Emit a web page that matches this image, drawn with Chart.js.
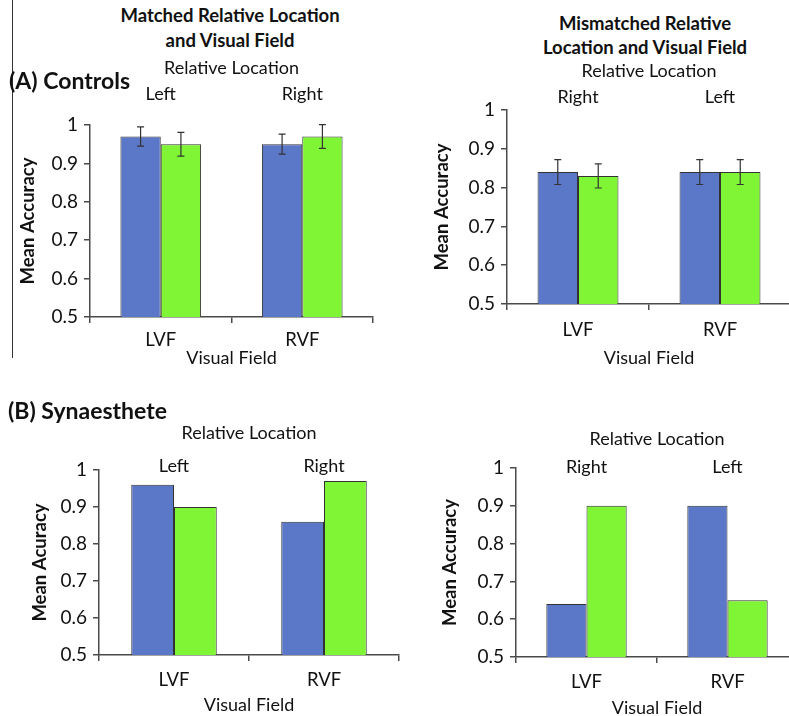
<!DOCTYPE html>
<html><head><meta charset="utf-8">
<script src="https://cdn.jsdelivr.net/npm/chart.js@4"></script>
<style>
html,body{margin:0;padding:0;background:#fff;overflow:hidden;}
#wrap{position:relative;width:789px;height:716px;overflow:hidden;font-family:Lato,sans-serif;color:#111;background:#fff;}
canvas{position:absolute;}
.t{position:absolute;white-space:nowrap;font-weight:bold;}
.c{transform:translateX(-50%);text-align:center;}
</style></head><body><div id="wrap">
<div style="position:absolute;left:12px;top:0;width:1px;height:358px;background:#333"></div>
<canvas id="cA"></canvas><canvas id="cB"></canvas><canvas id="cC"></canvas><canvas id="cD"></canvas>
<div class="t" style="left:9px;top:66px;font-size:23px;line-height:28px">(A) Controls</div>
<div class="t" style="left:8px;top:396px;font-size:23px;line-height:28px">(B) Synaesthete</div>
<div class="t c" style="left:230px;top:3px;font-size:18.5px;line-height:25px">Matched Relative Location<br>and Visual Field</div>
<div class="t c" style="left:645px;top:11px;font-size:18.5px;line-height:24px">Mismatched Relative<br>Location and Visual Field</div>
</div>
<script>
// ---- data ----
const categories = ['LVF', 'RVF'];
const seriesNames = ['Series 1', 'Series 2'];
const matchedLocations = ['Left', 'Right'];
const mismatchedLocations = ['Right', 'Left'];
const controlsMatchedBlue = [0.97, 0.95];
const controlsMatchedGreen = [0.95, 0.97];
const controlsMatchedBlueErr = [0.025, 0.026];
const controlsMatchedGreenErr = [0.031, 0.031];
const controlsMismatchedBlue = [0.84, 0.84];
const controlsMismatchedGreen = [0.83, 0.84];
const controlsMismatchedBlueErr = [0.032, 0.032];
const controlsMismatchedGreenErr = [0.031, 0.032];
const synMatchedBlue = [0.96, 0.86];
const synMatchedGreen = [0.90, 0.97];
const synMismatchedBlue = [0.64, 0.90];
const synMismatchedGreen = [0.90, 0.65];
const yMin = 0.5, yMax = 1, yStep = 0.1;

// ---- style ----
const BLUE = '#5b77c7', GREEN = '#80f535', EDGE = '#333333', AX = '#4a4a4a';
const FAM = 'Lato, sans-serif';

const errorBars = {
  id: 'errorBars',
  afterDatasetsDraw(chart) {
    const ctx = chart.ctx, ys = chart.scales.y;
    chart.data.datasets.forEach((ds, i) => {
      if (!ds.errors) return;
      const meta = chart.getDatasetMeta(i);
      meta.data.forEach((bar, j) => {
        const v = ds.data[j], e = ds.errors[j];
        const x = bar.x, y1 = ys.getPixelForValue(v + e), y2 = ys.getPixelForValue(v - e);
        ctx.save();
        ctx.strokeStyle = '#333'; ctx.lineWidth = 1.2;
        ctx.beginPath();
        ctx.moveTo(x, y1); ctx.lineTo(x, y2);
        ctx.moveTo(x - 3.5, y1); ctx.lineTo(x + 3.5, y1);
        ctx.moveTo(x - 3.5, y2); ctx.lineTo(x + 3.5, y2);
        ctx.stroke(); ctx.restore();
      });
    });
  }
};

function panel(id, g, blue, green, blueErr, greenErr, topLabels, yTitle) {
  const c = document.getElementById(id);
  c.width = g.w; c.height = g.h;
  c.style.left = g.x + 'px'; c.style.top = g.y + 'px';
  const ds = (label, data, err, col) => ({
    label, data, errors: err, backgroundColor: col, borderColor: EDGE, borderWidth: 1,
    categoryPercentage: 0.57, barPercentage: 1, xAxisID: 'x', yAxisID: 'y'
  });
  new Chart(c, {
    type: 'bar',
    data: { labels: categories, datasets: [ds(seriesNames[0], blue, blueErr, BLUE), ds(seriesNames[1], green, greenErr, GREEN)] },
    options: {
      responsive: false, animation: false, devicePixelRatio: 1,
      layout: { padding: { left: 0, top: 0, bottom: 0, right: 2 } },
      plugins: { legend: { display: false }, tooltip: { enabled: false }, title: { display: false } },
      scales: {
        x: {
          position: 'bottom', offset: true, z: 1,
          grid: { offset: true, drawOnChartArea: false, drawTicks: true, tickLength: 6, color: AX, lineWidth: 1.5 },
          border: { color: AX, width: 1.5 },
          ticks: { padding: g.bp, font: { family: FAM, size: 18.5 }, color: '#111' },
          title: { display: true, text: 'Visual Field', padding: 0, font: { family: FAM, size: 18 }, color: '#111' },
          afterFit: s => { s.height = g.hx; }
        },
        xTop: {
          type: 'category', position: 'top', labels: topLabels, offset: true, z: 2,
          grid: { display: false, drawTicks: false }, border: { display: false },
          ticks: { mirror: true, padding: g.tp, font: { family: FAM, size: 18 }, color: '#111' },
          title: { display: true, text: 'Relative Location', padding: 0, font: { family: FAM, size: 18 }, color: '#111' },
          afterFit: s => { s.height = g.ht; }
        },
        y: {
          min: yMin, max: yMax, z: 1,
          ticks: { stepSize: yStep, padding: 6, font: { family: FAM, size: 19 }, color: '#111',
                   callback: v => String(Math.round(v * 10) / 10) },
          grid: { drawOnChartArea: false, drawTicks: true, tickLength: 6, color: AX, lineWidth: 1.5 },
          border: { color: AX, width: 1.5 },
          title: { display: true, text: yTitle, padding: 0, font: { family: FAM, size: 18.5, weight: 'bold' }, color: '#111' },
          afterFit: s => { s.width = g.wy; }
        }
      }
    },
    plugins: [errorBars]
  });
}

panel('cA', { x: 17, y: 57, w: 358, h: 312, wy: 73, ht: 68, hx: 52, tp: -42, bp: 6 },
  controlsMatchedBlue, controlsMatchedGreen, controlsMatchedBlueErr, controlsMatchedGreenErr, matchedLocations, 'Mean Accuracy');
panel('cB', { x: 431, y: 60, w: 362, h: 309, wy: 76, ht: 50, hx: 65, tp: -24, bp: 9 },
  controlsMismatchedBlue, controlsMismatchedGreen, controlsMismatchedBlueErr, controlsMismatchedGreenErr, mismatchedLocations, 'Mean Accuracy');
panel('cC', { x: 29, y: 422, w: 372, h: 294, wy: 70, ht: 48, hx: 61, tp: -15, bp: 8 },
  synMatchedBlue, synMatchedGreen, null, null, matchedLocations, 'Mean Acuracy');
panel('cD', { x: 439, y: 428, w: 361, h: 291, wy: 77, ht: 40, hx: 62, tp: -12, bp: 8 },
  synMismatchedBlue, synMismatchedGreen, null, null, mismatchedLocations, 'Mean Accuracy');
</script>
</body></html>
